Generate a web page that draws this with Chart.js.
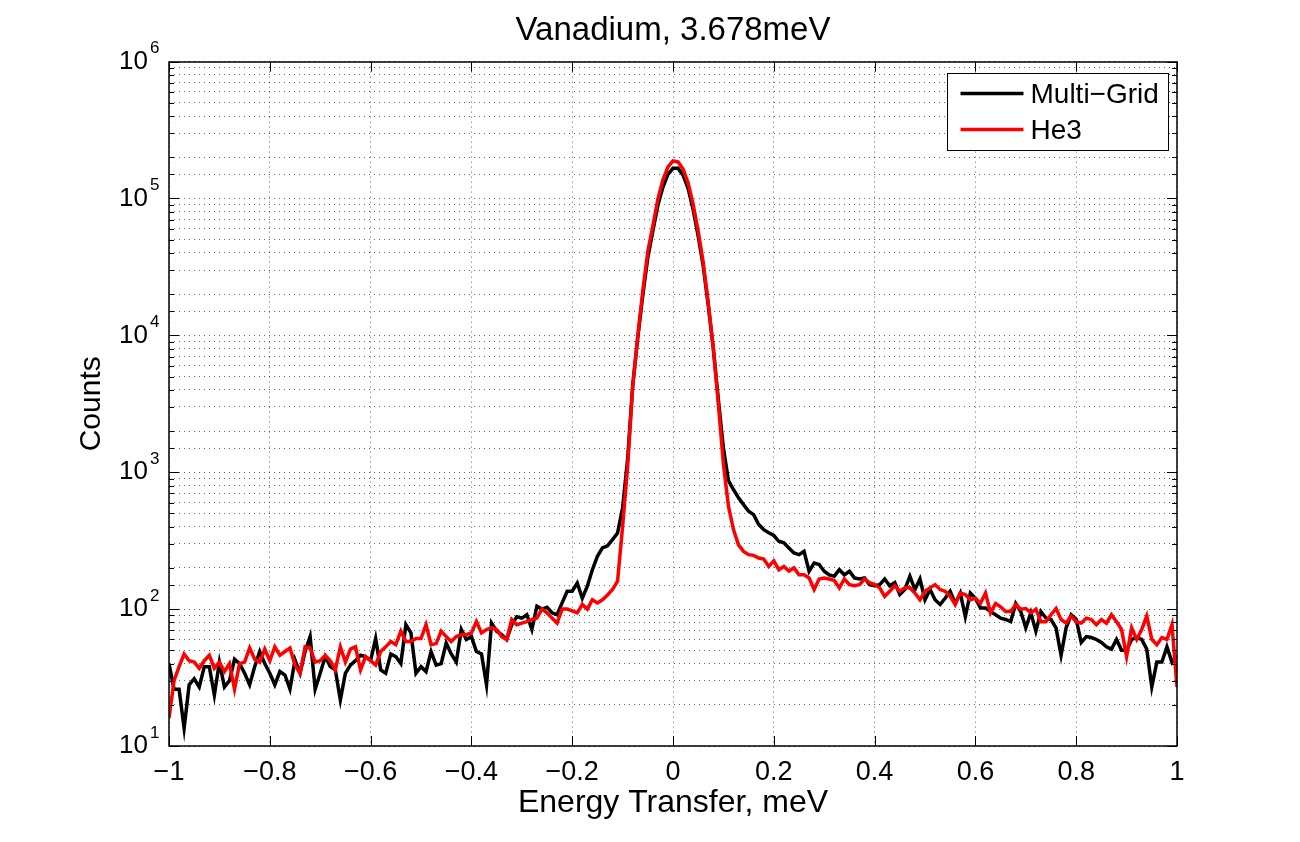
<!DOCTYPE html>
<html>
<head>
<meta charset="utf-8">
<script src="https://cdn.jsdelivr.net/npm/chart.js@4.4.0/dist/chart.umd.min.js"></script>
<style>
  html, body { margin: 0; padding: 0; background: #fff; }
</style>
</head>
<body>
<canvas id="chart" width="1300" height="842"></canvas>
<script>
'use strict';

// energy transfer bins, meV
var energy = [
    -1, -0.99, -0.98, -0.97, -0.96, -0.95, -0.94, -0.93, -0.92, -0.91,
    -0.9, -0.89, -0.88, -0.87, -0.86, -0.85, -0.84, -0.83, -0.82, -0.81,
    -0.8, -0.79, -0.78, -0.77, -0.76, -0.75, -0.74, -0.73, -0.72, -0.71,
    -0.7, -0.69, -0.68, -0.67, -0.66, -0.65, -0.64, -0.63, -0.62, -0.61,
    -0.6, -0.59, -0.58, -0.57, -0.56, -0.55, -0.54, -0.53, -0.52, -0.51,
    -0.5, -0.49, -0.48, -0.47, -0.46, -0.45, -0.44, -0.43, -0.42, -0.41,
    -0.4, -0.39, -0.38, -0.37, -0.36, -0.35, -0.34, -0.33, -0.32, -0.31,
    -0.3, -0.29, -0.28, -0.27, -0.26, -0.25, -0.24, -0.23, -0.22, -0.21,
    -0.2, -0.19, -0.18, -0.17, -0.16, -0.15, -0.14, -0.13, -0.12, -0.11,
    -0.1, -0.09, -0.08, -0.07, -0.06, -0.05, -0.04, -0.03, -0.02, -0.01,
    0, 0.01, 0.02, 0.03, 0.04, 0.05, 0.06, 0.07, 0.08, 0.09,
    0.1, 0.11, 0.12, 0.13, 0.14, 0.15, 0.16, 0.17, 0.18, 0.19,
    0.2, 0.21, 0.22, 0.23, 0.24, 0.25, 0.26, 0.27, 0.28, 0.29,
    0.3, 0.31, 0.32, 0.33, 0.34, 0.35, 0.36, 0.37, 0.38, 0.39,
    0.4, 0.41, 0.42, 0.43, 0.44, 0.45, 0.46, 0.47, 0.48, 0.49,
    0.5, 0.51, 0.52, 0.53, 0.54, 0.55, 0.56, 0.57, 0.58, 0.59,
    0.6, 0.61, 0.62, 0.63, 0.64, 0.65, 0.66, 0.67, 0.68, 0.69,
    0.7, 0.71, 0.72, 0.73, 0.74, 0.75, 0.76, 0.77, 0.78, 0.79,
    0.8, 0.81, 0.82, 0.83, 0.84, 0.85, 0.86, 0.87, 0.88, 0.89,
    0.9, 0.91, 0.92, 0.93, 0.94, 0.95, 0.96, 0.97, 0.98, 0.99,
    1
]

var multiGrid = [
    40, 26, 26, 13.5, 28, 31, 27, 38, 38, 23.6,
    41, 27, 30, 43, 40, 34, 28, 38, 49, 40,
    34, 28, 35, 33, 26, 42.6, 34, 49, 63, 26,
    34, 45, 38, 36, 21.7, 34, 39, 42, 46, 45,
    42, 61, 36, 34, 47, 45, 40, 77, 67, 34,
    38, 35, 49, 39, 40, 56.5, 47, 41, 71, 60,
    63, 49, 47, 28, 79, 69, 65, 60, 77, 88,
    86, 91, 71, 105, 100, 103, 94, 91, 111, 135,
    135, 155, 120, 147, 194, 243, 280, 290, 322, 360,
    550, 1250, 4300, 9500, 19500, 37000, 58000, 89000, 121000, 150000,
    166000, 166000, 148000, 118000, 83000, 53000, 32000, 16500, 8000, 3400,
    1500, 870, 748, 650, 580, 519, 490, 415, 381, 361,
    345, 313, 305, 280, 257, 250, 264, 189, 217, 212,
    189, 178, 174, 194, 178, 189, 169, 166, 169, 151,
    148, 151, 166, 148, 156, 128, 139, 174, 139, 166,
    117, 139, 117, 108, 120, 135, 110, 131, 88, 131,
    120, 102, 102, 96, 91, 86, 84, 81, 110, 96,
    73, 94, 69, 96, 86, 84, 73, 46, 73, 91,
    84, 57, 63, 62, 60, 57, 53, 51, 60, 50,
    50, 60, 62, 60, 51, 27, 41, 41, 53, 41,
    46
]

var he3 = [
    16, 30, 38, 47, 42, 41, 37, 42, 46, 37,
    41, 35, 40, 26, 40, 41, 52, 43, 41, 51,
    42, 53, 46, 49, 52, 39, 34, 53, 52, 41,
    42, 46, 42, 36, 53, 41, 51, 53, 36, 45,
    42, 39, 49, 53, 58, 55, 69, 58, 58, 61,
    61, 77, 55, 56, 69, 63, 58, 63, 65, 65,
    67, 81, 67, 71, 73, 71, 63, 60, 84, 77,
    79, 81, 84, 86, 100, 94, 86, 79, 100, 100,
    97, 94, 108, 100, 117, 111, 117, 127, 139, 160,
    400, 1100, 4200, 9900, 21000, 41000, 63000, 99000, 137000, 170000,
    188000, 185000, 164000, 130000, 90600, 57500, 34000, 17200, 8050, 3150,
    1150, 565, 381, 295, 264, 250, 247, 236, 232, 205,
    225, 194, 205, 190, 200, 178, 178, 169, 139, 166,
    169, 166, 162, 143, 166, 151, 148, 151, 166, 156,
    151, 143, 124, 135, 148, 135, 143, 143, 131, 117,
    135, 143, 151, 139, 135, 124, 108, 131, 128, 117,
    120, 110, 131, 94, 110, 104, 96, 96, 108, 100,
    101, 94, 100, 81, 81, 91, 101, 84, 79, 89,
    81, 79, 86, 84, 77, 84, 79, 91, 81, 71,
    45, 73, 60, 71, 89, 60, 55, 62, 60, 77,
    27
]

var seriesNames = ['Multi\u2212Grid', 'He3']
var seriesColors = ['#000000', '#ff0000']

var fontFamily = '"Liberation Sans", Arial, Helvetica, sans-serif'

function isDecade(v) {
    var e = Math.log10(v)
    return Math.abs(e - Math.round(e)) < 1e-9
}

function toPoints(values) {
    return energy.map(function (e, i) {
        return { x: e, y: values[i] }
    })
}

function formatEnergy(v) {
    var r = Math.round(v * 10) / 10
    if (r === 0) {
        return '0'
    }
    var s = String(Math.abs(r))
    return r < 0 ? '\u2212' + s : s
}

// box, inward ticks, exponents and legend, drawn the matlab way
var matlabAxes = {
    id: 'matlabAxes',
    afterDatasetsDraw: function (chart) {
        var ctx = chart.ctx
        var area = chart.chartArea
        var xs = chart.scales.x
        var ys = chart.scales.y

        ctx.save()
        ctx.strokeStyle = '#000'
        ctx.lineWidth = 1
        ctx.setLineDash([])

        ctx.beginPath()
        for (var t of xs.ticks) {
            var px = Math.round(xs.getPixelForValue(t.value)) + 0.5
            ctx.moveTo(px, area.bottom)
            ctx.lineTo(px, area.bottom - 10)
            ctx.moveTo(px, area.top)
            ctx.lineTo(px, area.top + 10)
        }
        for (var t of ys.ticks) {
            var py = Math.round(ys.getPixelForValue(t.value)) + 0.5
            var len = isDecade(t.value) ? 10 : 5
            ctx.moveTo(area.left, py)
            ctx.lineTo(area.left + len, py)
            ctx.moveTo(area.right, py)
            ctx.lineTo(area.right - len, py)
        }
        ctx.stroke()

        ctx.lineWidth = 1.5
        ctx.strokeRect(Math.round(area.left), Math.round(area.top),
            Math.round(area.right - area.left), Math.round(area.bottom - area.top))

        // exponents of the 10^n labels
        ctx.fillStyle = '#000'
        ctx.font = '17px ' + fontFamily
        ctx.textAlign = 'left'
        ctx.textBaseline = 'middle'
        for (var t of ys.ticks) {
            if (!isDecade(t.value)) {
                continue
            }
            var py = ys.getPixelForValue(t.value)
            ctx.fillText(String(Math.round(Math.log10(t.value))), area.left - 19, py - 13)
        }

        // legend
        var boxW = 221
        var boxH = 77
        var bx = Math.round(area.right - 9 - boxW) + 0.5
        var by = Math.round(area.top + 11) + 0.5
        ctx.fillStyle = '#fff'
        ctx.fillRect(bx, by, boxW, boxH)
        ctx.lineWidth = 1
        ctx.strokeStyle = '#000'
        ctx.strokeRect(bx, by, boxW, boxH)

        ctx.font = '28px ' + fontFamily
        ctx.textBaseline = 'middle'
        chart.data.datasets.forEach(function (ds, i) {
            var ly = by + 20 + i * 36
            ctx.strokeStyle = ds.borderColor
            ctx.lineWidth = 3.5
            ctx.beginPath()
            ctx.moveTo(bx + 13, ly)
            ctx.lineTo(bx + 76, ly)
            ctx.stroke()
            ctx.fillStyle = '#000'
            ctx.fillText(ds.label, bx + 83, ly + 2)
        })

        ctx.restore()
    }
}

var ctx = document.getElementById('chart').getContext('2d')
new Chart(ctx, {
    type: 'line',
    data: {
        datasets: [{
            label: seriesNames[0],
            data: toPoints(multiGrid),
            borderColor: seriesColors[0],
            borderWidth: 3.5,
            pointRadius: 0,
            tension: 0,
            order: 2
        }, {
            label: seriesNames[1],
            data: toPoints(he3),
            borderColor: seriesColors[1],
            borderWidth: 3.5,
            pointRadius: 0,
            tension: 0,
            order: 1
        }]
    },
    options: {
        responsive: false,
        animation: false,
        events: [],
        layout: {
            padding: { left: 50, right: 123, top: 0, bottom: 0 }
        },
        plugins: {
            legend: { display: false },
            tooltip: { enabled: false },
            title: {
                display: true,
                fullSize: false,
                text: 'Vanadium, 3.678meV',
                color: '#000',
                font: { family: fontFamily, size: 33, weight: 'normal' },
                padding: { top: 11, bottom: 11 }
            }
        },
        scales: {
            x: {
                type: 'linear',
                min: -1,
                max: 1,
                afterFit: function (scale) {
                    scale.height = 96
                },
                ticks: {
                    stepSize: 0.2,
                    autoSkip: false,
                    maxRotation: 0,
                    padding: 10,
                    color: '#000',
                    font: { family: fontFamily, size: 27 },
                    callback: function (v) {
                        return formatEnergy(v)
                    }
                },
                grid: {
                    color: 'rgba(0,0,0,0.6)',
                    lineWidth: 1,
                    drawTicks: false
                },
                border: { display: false, dash: [1, 4] },
                title: {
                    display: true,
                    text: 'Energy Transfer, meV',
                    color: '#000',
                    font: { family: fontFamily, size: 32, weight: 'normal' },
                    padding: { top: 0, bottom: 20 }
                }
            },
            y: {
                type: 'logarithmic',
                min: 10,
                max: 1000000,
                afterFit: function (scale) {
                    scale.width = 119
                },
                ticks: {
                    autoSkip: false,
                    padding: 21,
                    color: '#000',
                    font: { family: fontFamily, size: 26 },
                    callback: function (v) {
                        return isDecade(v) ? '10' : ''
                    }
                },
                grid: {
                    color: 'rgba(0,0,0,0.6)',
                    lineWidth: 1,
                    drawTicks: false
                },
                border: { display: false, dash: [1, 4] },
                title: {
                    display: true,
                    text: 'Counts',
                    color: '#000',
                    font: { family: fontFamily, size: 30, weight: 'normal' },
                    padding: { top: 24, bottom: 0 }
                }
            }
        }
    },
    plugins: [matlabAxes]
})
</script>
</body>
</html>
